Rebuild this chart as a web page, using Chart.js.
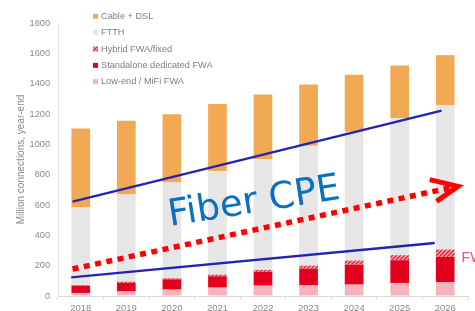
<!DOCTYPE html>
<html>
<head>
<meta charset="utf-8">
<script src="https://cdn.jsdelivr.net/npm/chart.js@4/dist/chart.umd.min.js"></script>
<style>
  html, body { margin: 0; padding: 0; background: #fff; overflow: hidden; }
  #wrap { width: 475px; height: 311px; overflow: hidden; }
  canvas { display: block; }
</style>
</head>
<body>
<div id="wrap"><canvas id="chart" width="475" height="320"></canvas></div>
<script>
// Broadband connections by technology, million, year-end
const years = [2018, 2019, 2020, 2021, 2022, 2023, 2024, 2025, 2026];
const lowEnd = [20, 30, 42, 55, 68, 70, 75, 86, 90];
const standalone = [48, 56, 68, 75, 91, 111, 132, 150, 168];
const hybrid = [4, 9, 7, 11, 13, 19, 27, 33, 48];
const ftth = [515, 575, 631, 684, 730, 790, 849, 904, 953];
const cableDsl = [518, 486, 450, 441, 426, 404, 375, 347, 329];

const yMax = 1800;
const yStep = 200;

// hand-drawn overlay, in data units (x = year, y = million)
const upperTrend = [{ x: 2017.82, y: 622 }, { x: 2025.92, y: 1222 }];
const lowerTrend = [{ x: 2017.79, y: 123 }, { x: 2025.77, y: 349 }];
const fiberArrow = [{ x: 2017.82, y: 178 }, { x: 2026.15, y: 716 }];
const arrowHead = [{ x: 2025.66, y: 767 }, { x: 2026.28, y: 723 }, { x: 2025.81, y: 624 }];
const fiberLabel = { text: 'Fiber CPE', x: 2021.84, y: 552, angle: -9.05 };
const fwaLabel = { text: 'FWA', x: 2026.36, y: 250 };

const FONT = '"Liberation Sans", Arial, sans-serif';
const GREY = '#8a8a8a';

const ctx = document.getElementById('chart').getContext('2d');

function hatchPattern() {
    const c = document.createElement('canvas');
    c.width = 4; c.height = 4;
    const g = c.getContext('2d');
    g.fillStyle = '#f4a7b1';
    g.fillRect(0, 0, 4, 4);
    g.strokeStyle = '#e0223c';
    g.lineWidth = 1.3;
    g.beginPath();
    g.moveTo(0, 4); g.lineTo(4, 0);
    g.moveTo(-1, 1); g.lineTo(1, -1);
    g.moveTo(3, 5); g.lineTo(5, 3);
    g.stroke();
    return ctx.createPattern(c, 'repeat');
}

function bar(label, data, color) {
    return {
        type: 'bar', label, data,
        yAxisID: 'y',
        backgroundColor: color,
        borderWidth: 0,
        barPercentage: 0.41,
        categoryPercentage: 1,
        order: 2
    };
}

function overlay(data, color, width, extra = {}) {
    return Object.assign({
        type: 'line', data,
        yAxisID: 'yl',
        borderColor: color, borderWidth: width,
        pointRadius: 0, fill: false, tension: 0,
        order: 1
    }, extra);
}

const legendPlugin = {
    id: 'sideLegend',
    afterDraw(chart) {
        const c = chart.ctx;
        const items = chart.data.datasets.filter(d => d.type === 'bar').slice().reverse();
        c.save();
        c.font = '9.2px ' + FONT;
        c.textBaseline = 'middle';
        c.textAlign = 'left';
        items.forEach((d, i) => {
            const y = 16.3 + i * 16.35;
            c.fillStyle = d.backgroundColor;
            c.fillRect(93, y - 2.5, 5, 5);
            c.fillStyle = '#7d7d7d';
            c.fillText(d.label, 101, y);
        });
        c.restore();
    }
};

const notesPlugin = {
    id: 'notes',
    afterDatasetsDraw(chart) {
        const c = chart.ctx;
        const xs = chart.scales.x, ys = chart.scales.yl;
        c.save();
        c.translate(xs.getPixelForValue(fiberLabel.x), ys.getPixelForValue(fiberLabel.y));
        c.rotate(fiberLabel.angle * Math.PI / 180);
        c.font = '37px "DejaVu Sans", sans-serif';
        c.fillStyle = '#0a70c2';
        c.textAlign = 'center';
        c.textBaseline = 'alphabetic';
        c.fillText(fiberLabel.text, 0, 0);
        c.restore();

        c.save();
        c.font = '14px ' + FONT;
        c.fillStyle = '#e8557a';
        c.textAlign = 'left';
        c.textBaseline = 'middle';
        c.fillText(fwaLabel.text, xs.getPixelForValue(fwaLabel.x), ys.getPixelForValue(fwaLabel.y));
        c.restore();
    }
};

new Chart(ctx, {
    data: {
        labels: years,
        datasets: [
            bar('Low-end / MiFi FWA', lowEnd, '#f6b3bd'),
            bar('Standalone dedicated FWA', standalone, '#e2001c'),
            bar('Hybrid FWA/fixed', hybrid, hatchPattern()),
            bar('FTTH', ftth, '#e6e6e6'),
            bar('Cable + DSL', cableDsl, '#f1a954'),
            overlay(upperTrend, '#2323b4', 2.4),
            overlay(lowerTrend, '#2323b4', 2.4),
            overlay(fiberArrow, '#ff0000', 5.5, { borderDash: [6, 5.5], borderCapStyle: 'butt' }),
            overlay(arrowHead, '#ff0000', 5, { borderJoinStyle: 'miter', borderCapStyle: 'butt' })
        ]
    },
    options: {
        responsive: false,
        animation: false,
        events: [],
        layout: { padding: { top: 23, right: 7, bottom: 0, left: 0 } },
        plugins: {
            legend: { display: false },
            tooltip: { enabled: false }
        },
        scales: {
            x: {
                type: 'linear',
                stacked: true,
                offset: false,
                min: years[0] - 0.5,
                max: years[years.length - 1] + 0.5,
                afterBuildTicks: s => { s.ticks = years.map(v => ({ value: v })); },
                grid: { drawOnChartArea: false, drawTicks: true, tickLength: 4, color: '#dadada', offset: true },
                border: { color: '#dadada' },
                ticks: {
                    color: GREY, font: { family: FONT, size: 9.5 }, padding: 3,
                    maxRotation: 0, autoSkip: false,
                    callback: v => String(v)
                },
                afterFit: s => { s.height = 24; }
            },
            y: {
                stacked: true,
                min: 0,
                max: yMax,
                grid: { drawOnChartArea: false, drawTicks: false },
                border: { color: '#e2e2e2' },
                ticks: { stepSize: yStep, padding: 8, color: GREY, font: { family: FONT, size: 9.2 }, callback: v => String(v) },
                title: {
                    display: true,
                    text: 'Million connections, year-end',
                    color: GREY,
                    font: { family: FONT, size: 10 },
                    padding: { top: 15, bottom: 0 }
                },
                afterFit: s => { s.width = 58; }
            },
            yl: { type: 'linear', display: false, min: 0, max: yMax }
        }
    },
    plugins: [legendPlugin, notesPlugin]
});
</script>
</body>
</html>
